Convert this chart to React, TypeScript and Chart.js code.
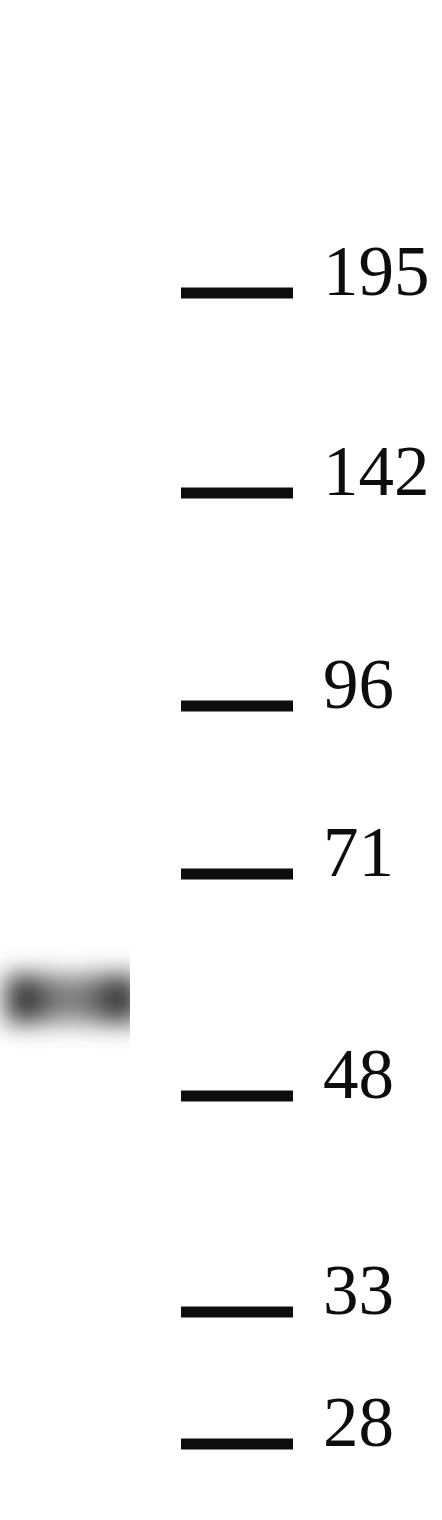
import { useEffect, useRef } from 'react';
import { Chart, ChartConfiguration, Plugin, registerables } from 'chart.js';

Chart.register(...registerables);

// Molecular weight ladder (kDa) and where each marker ran on the blot (px from top)
const markerLabels = ['195', '142', '96', '71', '48', '33', '28'];
const markerMigration = [293, 493, 706, 874, 1096, 1312, 1444];

// Sample lane: one band, density profile across the lane width
const bandMigration = 999;
const bandLanePos = [4, 22, 40, 60, 80, 100, 114, 140];
const bandDensity = [0.6, 1, 0.72, 0.55, 0.55, 0.7, 0.9, 0.85];

const WIDTH = 442;
const HEIGHT = 1520;
const PLOT_RIGHT = 310;
const MARKER_X0 = 181;
const MARKER_X1 = 293;
const LANE_EDGE = 130;

// soften the band so it looks like a film exposure
const bandBlur: Plugin<'line'> = {
  id: 'bandBlur',
  beforeDatasetDraw(chart, args) {
    if (args.index === 0) {
      chart.ctx.save();
      chart.ctx.filter = 'blur(12px)';
    }
  },
  afterDatasetDraw(chart, args) {
    if (args.index === 0) chart.ctx.restore();
  }
};

function bandGradient(c: any) {
  const chart = c.chart;
  const xs = chart.scales?.x;
  const fallback = 'rgba(25,25,25,0.7)';
  if (!xs || !chart.chartArea) return fallback;
  const first = bandLanePos[0];
  const last = bandLanePos[bandLanePos.length - 1];
  const x0 = xs.getPixelForValue(first);
  const x1 = xs.getPixelForValue(last);
  if (!Number.isFinite(x0) || !Number.isFinite(x1)) return fallback;
  const g = chart.ctx.createLinearGradient(x0, 0, x1, 0);
  bandLanePos.forEach((p, i) => {
    g.addColorStop((p - first) / (last - first), `rgba(30,30,30,${bandDensity[i]})`);
  });
  return g;
}

export default function App() {
  const canvasRef = useRef<HTMLCanvasElement>(null);
  const chartRef = useRef<Chart | null>(null);

  useEffect(() => {
    if (!canvasRef.current) return;
    if (chartRef.current) chartRef.current.destroy();

    const ctx = canvasRef.current.getContext('2d');
    if (!ctx) return;

    const config: ChartConfiguration<'line'> = {
      type: 'line',
      data: {
        datasets: [
          {
            label: 'band',
            data: bandLanePos.map(x => ({ x, y: bandMigration })),
            borderWidth: 48,
            borderCapStyle: 'butt',
            pointRadius: 0,
            borderColor: bandGradient,
            // the lane was cut at its right edge
            clip: { left: 0, top: 0, bottom: 0, right: LANE_EDGE - PLOT_RIGHT }
          },
          {
            label: 'markers',
            data: markerMigration.flatMap(y => [
              { x: MARKER_X0, y },
              { x: MARKER_X1, y },
              { x: NaN, y: NaN }
            ]),
            borderWidth: 11,
            borderCapStyle: 'butt',
            borderColor: '#0d0d0d',
            pointRadius: 0,
            spanGaps: false
          }
        ]
      },
      options: {
        animation: false,
        responsive: true,
        maintainAspectRatio: false,
        layout: { padding: 0, autoPadding: false },
        plugins: {
          legend: { display: false },
          tooltip: { enabled: false }
        },
        scales: {
          x: {
            type: 'linear',
            min: 0,
            max: PLOT_RIGHT,
            display: false
          },
          y: {
            type: 'linear',
            position: 'right',
            reverse: true,
            min: 0,
            max: HEIGHT,
            grid: { display: false, drawTicks: false },
            border: { display: false },
            afterBuildTicks: (axis) => {
              axis.ticks = markerMigration.map(value => ({ value }));
            },
            afterFit: (axis: any) => {
              axis.width = WIDTH - PLOT_RIGHT;
              axis.paddingTop = 0;
              axis.paddingBottom = 0;
            },
            ticks: {
              autoSkip: false,
              padding: 13,
              labelOffset: -17,
              color: '#0d0d0d',
              font: { family: '"Liberation Serif", "Times New Roman", serif', size: 71 },
              callback: (value) => markerLabels[markerMigration.indexOf(Number(value))] ?? ''
            }
          }
        }
      },
      plugins: [bandBlur]
    };

    chartRef.current = new Chart(ctx, config);
    // re-resolve the band gradient now that the scales have pixel positions
    chartRef.current.update('none');

    return () => {
      if (chartRef.current) {
        chartRef.current.destroy();
        chartRef.current = null;
      }
    };
  }, []);

  return (
    <div style={{ position: 'absolute', left: 0, top: 0, width: WIDTH, height: HEIGHT, background: '#fff' }}>
      <canvas ref={canvasRef}></canvas>
    </div>
  );
}
